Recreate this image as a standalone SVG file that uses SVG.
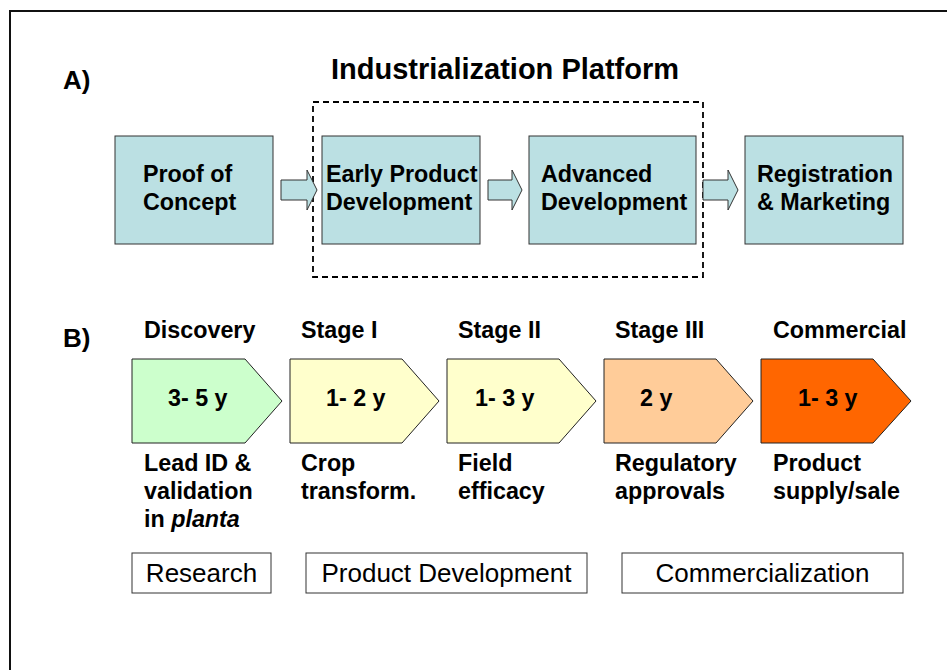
<svg xmlns="http://www.w3.org/2000/svg" width="947" height="670" viewBox="0 0 947 670">
  <style>
    .bold { font-family: "Liberation Sans", Arial, sans-serif; font-weight: bold; fill: #000; }
    .lbl { font-size: 23.3px; }
    .head { font-size: 26px; }
    .title { font-size: 29px; }
    .plain { font-family: "Liberation Sans", Arial, sans-serif; font-size: 26px; fill: #000; }
    .phase { fill: #BBE0E3; stroke: #333; stroke-width: 1; }
    .flow { fill: #BBE0E3; stroke: #333; stroke-width: 1; }
    .chev { stroke: #222; stroke-width: 1; }
    .group { fill: #fff; stroke: #333; stroke-width: 1; }
  </style>

  <rect width="947" height="670" fill="#fff"/>
  <!-- page frame -->
  <rect x="10" y="11" width="1000" height="700" fill="none" stroke="#111" stroke-width="2"/>

  <!-- A) -->
  <text class="bold head" x="63" y="89">A)</text>
  <text class="bold title" x="505" y="79" text-anchor="middle">Industrialization Platform</text>

  <!-- platform bracket -->
  <rect x="313" y="102" width="390" height="175" fill="none" stroke="#000" stroke-width="1.8" stroke-dasharray="6 4"/>

  <g id="connectors">
    <polygon class="flow" points="281,180 307,180 307,170 317,190 307,210 307,200 281,200"/>
    <polygon class="flow" points="488,180 512,180 512,170 522,190 512,210 512,200 488,200"/>
    <polygon class="flow" points="703,180 728,180 728,170 738,190 728,210 728,200 703,200"/>
  </g>

  <g id="proof-of-concept">
    <rect class="phase" x="115" y="136" width="158" height="108"/>
    <text class="bold lbl" x="143" y="182">Proof of</text>
    <text class="bold lbl" x="143" y="210">Concept</text>
  </g>
  <g id="early-product-development">
    <rect class="phase" x="322" y="136" width="158" height="108"/>
    <text class="bold lbl" x="326" y="182">Early Product</text>
    <text class="bold lbl" x="326" y="210">Development</text>
  </g>
  <g id="advanced-development">
    <rect class="phase" x="529" y="136" width="167" height="108"/>
    <text class="bold lbl" x="541" y="182">Advanced</text>
    <text class="bold lbl" x="541" y="210">Development</text>
  </g>
  <g id="registration-marketing">
    <rect class="phase" x="745" y="136" width="158" height="108"/>
    <text class="bold lbl" x="757" y="182">Registration</text>
    <text class="bold lbl" x="757" y="210">&amp; Marketing</text>
  </g>

  <!-- B) -->
  <text class="bold head" x="63" y="347">B)</text>

  <g id="discovery">
    <text class="bold lbl" x="144" y="338">Discovery</text>
    <polygon class="chev" fill="#CCFFCC" points="132,359 245,359 282,401 245,443 132,443"/>
    <text class="bold lbl" x="168" y="406">3- 5 y</text>
    <text class="bold lbl" x="144" y="471">Lead ID &amp;</text>
    <text class="bold lbl" x="144" y="499">validation</text>
    <text class="bold lbl" x="144" y="527">in <tspan font-style="italic">planta</tspan></text>
  </g>
  <g id="stage-1">
    <text class="bold lbl" x="301" y="338">Stage I</text>
    <polygon class="chev" fill="#FFFFCC" points="290,359 402,359 439,401 402,443 290,443"/>
    <text class="bold lbl" x="326" y="406">1- 2 y</text>
    <text class="bold lbl" x="301" y="471">Crop</text>
    <text class="bold lbl" x="301" y="499">transform.</text>
  </g>
  <g id="stage-2">
    <text class="bold lbl" x="458" y="338">Stage II</text>
    <polygon class="chev" fill="#FFFFCC" points="447,359 559,359 596,401 559,443 447,443"/>
    <text class="bold lbl" x="475" y="406">1- 3 y</text>
    <text class="bold lbl" x="458" y="471">Field</text>
    <text class="bold lbl" x="458" y="499">efficacy</text>
  </g>
  <g id="stage-3">
    <text class="bold lbl" x="615" y="338">Stage III</text>
    <polygon class="chev" fill="#FFCC99" points="604,359 716,359 753,401 716,443 604,443"/>
    <text class="bold lbl" x="640" y="406">2 y</text>
    <text class="bold lbl" x="615" y="471">Regulatory</text>
    <text class="bold lbl" x="615" y="499">approvals</text>
  </g>
  <g id="commercial">
    <text class="bold lbl" x="773" y="338">Commercial</text>
    <polygon class="chev" fill="#FF6600" points="761,359 873,359 911,401 873,443 761,443"/>
    <text class="bold lbl" x="798" y="406">1- 3 y</text>
    <text class="bold lbl" x="773" y="471">Product</text>
    <text class="bold lbl" x="773" y="499">supply/sale</text>
  </g>

  <g id="research">
    <rect class="group" x="132" y="553" width="139" height="40"/>
    <text class="plain" x="201.5" y="582" text-anchor="middle">Research</text>
  </g>
  <g id="product-development">
    <rect class="group" x="306" y="553" width="281" height="40"/>
    <text class="plain" x="446.5" y="582" text-anchor="middle">Product Development</text>
  </g>
  <g id="commercialization">
    <rect class="group" x="622" y="553" width="281" height="40"/>
    <text class="plain" x="762.5" y="582" text-anchor="middle">Commercialization</text>
  </g>
</svg>
